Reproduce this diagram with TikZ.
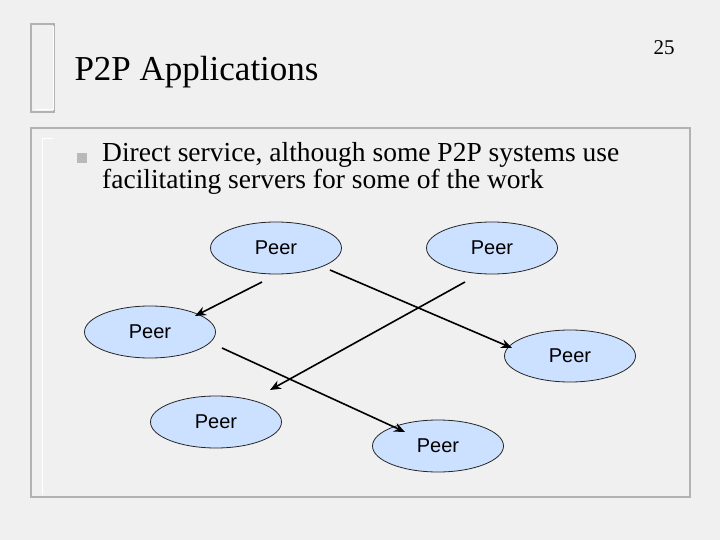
\documentclass[tikz,border=0pt]{standalone}
\usepackage{fontspec}
\setmainfont{Liberation Serif}
\newfontfamily\sansf{Liberation Sans}
\usetikzlibrary{arrows.meta,shapes.geometric}
\definecolor{peerfill}{RGB}{204,224,255}
\tikzset{peer/.style={ellipse,draw=black!85,fill=peerfill,line width=0.8pt,minimum width=131pt,minimum height=52pt,font=\sansf\fontsize{20}{20}\selectfont,inner sep=0pt},
conn/.style={line width=1.6pt,-{Stealth[length=11pt,width=9pt]}},
frame/.style={draw=gray!60,line width=1.5pt}}
\begin{document}
\begin{tikzpicture}[x=1pt,y=-1pt]
\useasboundingbox (0,0) rectangle (720,540);
\fill[gray!12] (0,0) rectangle (720,540);
\draw[frame] (31,24) rectangle (54,112);
\draw[white,line width=1pt] (35,110) -- (53,110) -- (53,26);
\draw[frame] (31,128) rectangle (690,497);
\draw[white,line width=1pt] (42,495) -- (42,139) -- (53,139);
\node[anchor=west,font=\fontsize{35}{35}\selectfont] (title) at (71,72) {P2P Applications};
\node[font=\fontsize{21}{21}\selectfont] (num) at (664,48) {25};
\fill[gray!55] (77,153) rectangle (87,163);
\node[anchor=north west,align=left,inner sep=0pt,font=\fontsize{27.5}{27}\selectfont] (txt) at (102,142) {Direct service, although some P2P systems use\\facilitating servers for some of the work};
\node[peer] (p1) at (276,248) {Peer};
\node[peer] (p2) at (492,248) {Peer};
\node[peer] (p3) at (150,332) {Peer};
\node[peer] (p4) at (570,356) {Peer};
\node[peer] (p5) at (216,422) {Peer};
\node[peer] (p6) at (438,446) {Peer};
\coordinate (a1) at (262,282);
\coordinate (b1) at (195,316);
\coordinate (a2) at (330,270);
\coordinate (b2) at (512,348);
\coordinate (a3) at (465,282);
\coordinate (b3) at (270,390);
\coordinate (a4) at (222,348);
\coordinate (b4) at (405,432);
\draw[conn] (a1) -- (b1);
\draw[conn] (a2) -- (b2);
\draw[conn] (a3) -- (b3);
\draw[conn] (a4) -- (b4);
\end{tikzpicture}
\end{document}
